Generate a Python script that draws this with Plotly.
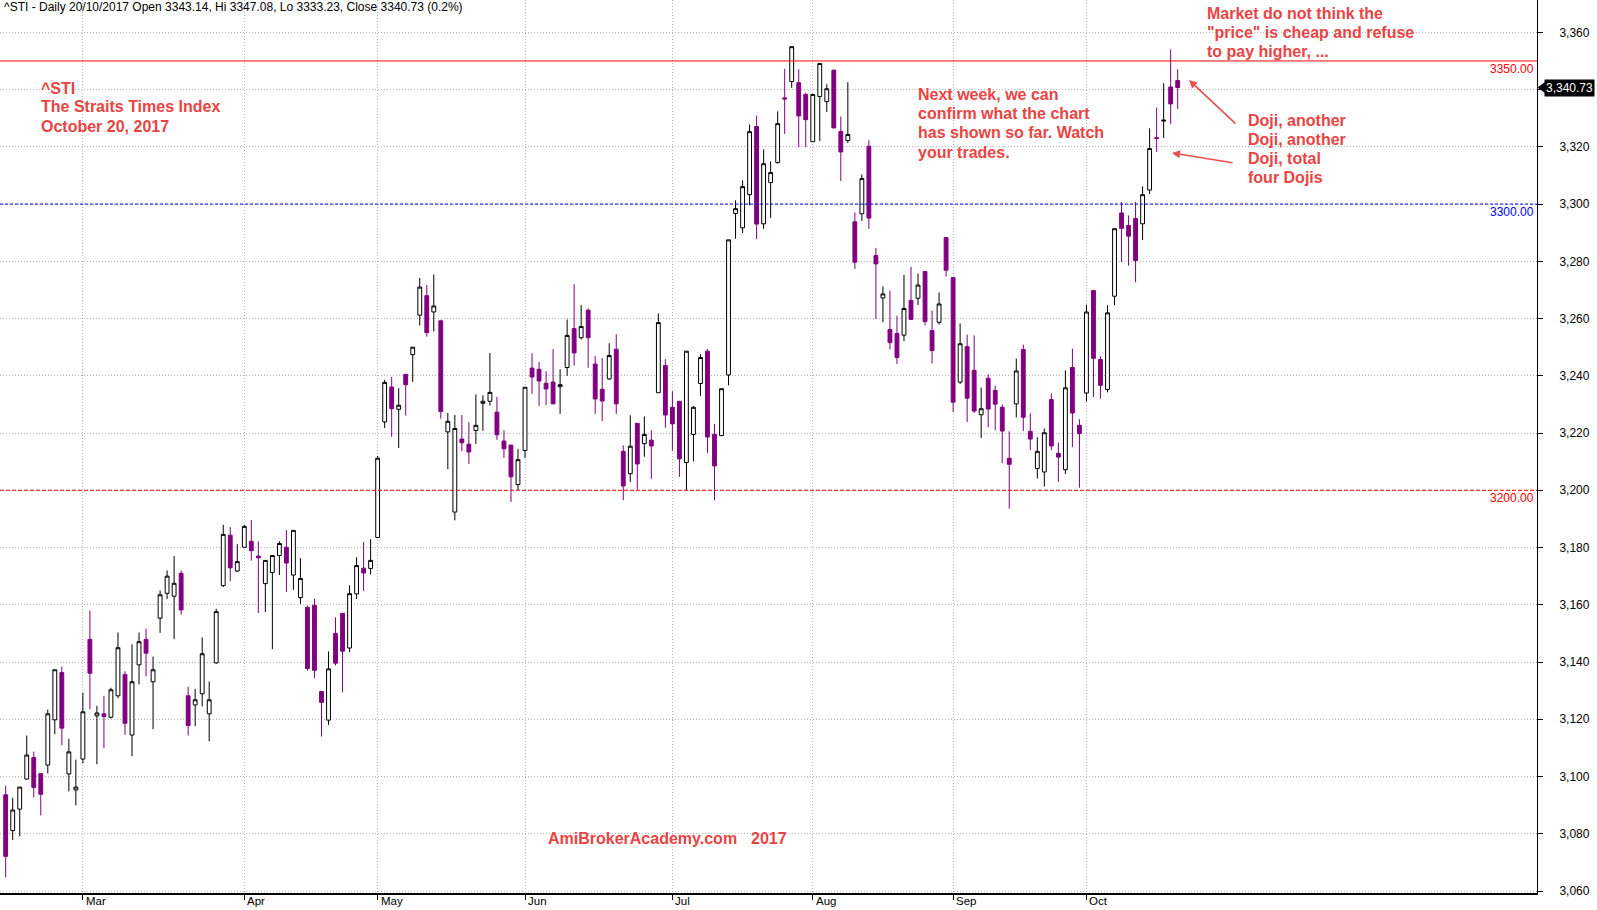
import plotly.graph_objects as go

# ---------------- data ----------------
opens = [3093.6, 3081.1, 3088.6, 3099.1, 3106.6, 3101.0, 3104.0, 3119.8, 3136.3, 3100.9,
         3095.3, 3106.1, 3147.9, 3121.2, 3121.9, 3120.7, 3128.2, 3135.6, 3114.5, 3139.0,
         3147.9, 3133.1, 3155.3, 3164.0, 3163.0, 3171.0, 3128.2, 3125.0, 3128.9, 3121.9,
         3139.7, 3166.7, 3184.3, 3171.8, 3180.1, 3182.2, 3177.0, 3167.4, 3171.3, 3177.2,
         3180.1, 3170.4, 3162.5, 3159.1, 3159.8, 3129.7, 3119.7, 3150.0, 3157.0, 3144.9,
         3163.8, 3172.8, 3172.7, 3183.5, 3223.9, 3236.1, 3228.3, 3240.5, 3247.4, 3261.2,
         3268.0, 3262.3, 3259.2, 3220.4, 3192.4, 3217.9, 3216.1, 3220.9, 3230.4, 3231.1,
         3227.3, 3217.2, 3215.8, 3202.0, 3213.9, 3242.7, 3242.3, 3237.4, 3237.8, 3236.2,
         3242.9, 3256.5, 3253.3, 3262.9, 3244.1, 3235.3, 3238.9, 3249.3, 3213.6, 3205.8,
         3223.4, 3216.3, 3217.5, 3234.1, 3243.6, 3229.0, 3231.1, 3209.7, 3219.5, 3237.3,
         3248.6, 3219.6, 3219.1, 3240.3, 3296.7, 3291.7, 3303.3, 3327.1, 3293.1, 3307.5,
         3314.5, 3337.1, 3342.8, 3342.4, 3338.3, 3321.8, 3337.6, 3335.8, 3346.8, 3325.4,
         3322.2, 3293.8, 3296.6, 3320.2, 3282.0, 3267.2, 3256.2, 3254.8, 3254.2, 3266.3,
         3267.1, 3276.4, 3255.8, 3258.7, 3288.3, 3274.3, 3237.8, 3250.2, 3241.9, 3226.4,
         3239.1, 3234.9, 3229.0, 3211.2, 3230.2, 3249.2, 3220.6, 3207.6, 3206.4, 3231.7,
         3212.9, 3207.2, 3242.9, 3222.7, 3234.0, 3269.8, 3245.7, 3235.2, 3267.8, 3296.9,
         3292.5, 3295.0, 3293.1, 3304.9, 3323.2, 3329.0, 3340.9, 3343.14]
highs = [3096.8, 3092.6, 3096.3, 3114.3, 3108.7, 3101.0, 3123.4, 3137.3, 3138.4, 3113.2,
         3105.9, 3129.3, 3158.0, 3124.7, 3128.2, 3131.0, 3150.3, 3136.8, 3146.2, 3150.3,
         3151.7, 3141.9, 3165.0, 3172.0, 3177.0, 3172.0, 3131.4, 3130.6, 3148.6, 3133.2,
         3158.6, 3187.9, 3187.1, 3181.2, 3187.9, 3189.6, 3182.2, 3175.5, 3177.2, 3182.2,
         3186.1, 3186.0, 3176.3, 3159.7, 3162.1, 3129.7, 3143.7, 3155.6, 3157.0, 3166.8,
         3176.6, 3181.9, 3182.9, 3212.0, 3238.6, 3239.6, 3235.7, 3240.5, 3250.0, 3274.2,
         3271.7, 3275.4, 3259.6, 3227.0, 3226.3, 3226.3, 3223.8, 3233.5, 3233.2, 3248.0,
         3232.6, 3221.0, 3215.8, 3214.4, 3236.0, 3247.9, 3244.8, 3241.6, 3249.3, 3242.3,
         3259.7, 3272.0, 3264.7, 3263.6, 3246.9, 3246.2, 3251.4, 3254.5, 3215.7, 3226.2,
         3223.4, 3225.8, 3221.0, 3261.8, 3245.8, 3234.6, 3231.1, 3248.6, 3229.4, 3247.6,
         3249.3, 3223.2, 3235.5, 3287.5, 3301.3, 3308.3, 3327.8, 3330.9, 3319.1, 3314.9,
         3332.4, 3347.3, 3355.0, 3347.1, 3338.9, 3338.3, 3349.1, 3341.9, 3346.8, 3330.6,
         3342.6, 3297.1, 3310.4, 3322.3, 3284.7, 3271.2, 3269.8, 3261.0, 3275.3, 3278.1,
         3275.7, 3276.4, 3262.8, 3269.1, 3288.3, 3274.3, 3258.3, 3254.4, 3254.1, 3235.9,
         3240.5, 3236.6, 3230.0, 3220.6, 3246.0, 3250.9, 3226.9, 3218.5, 3221.6, 3233.8,
         3216.7, 3241.9, 3249.5, 3224.8, 3264.9, 3269.8, 3246.8, 3264.7, 3291.4, 3300.7,
         3296.0, 3300.8, 3306.2, 3326.5, 3333.7, 3342.2, 3354.1, 3347.08]
lows = [3064.7, 3077.8, 3079.1, 3099.0, 3092.7, 3086.4, 3101.1, 3114.8, 3110.9, 3094.8,
        3089.9, 3104.6, 3123.5, 3104.3, 3109.9, 3120.3, 3127.4, 3114.6, 3107.1, 3132.2,
        3135.0, 3116.5, 3150.2, 3162.0, 3148.0, 3156.6, 3114.3, 3117.6, 3124.5, 3112.3,
        3139.4, 3166.2, 3168.2, 3171.4, 3179.8, 3175.4, 3157.1, 3157.5, 3144.5, 3170.4,
        3164.5, 3165.2, 3160.3, 3137.0, 3134.3, 3114.0, 3118.0, 3138.8, 3129.4, 3143.5,
        3162.0, 3164.8, 3170.6, 3183.5, 3221.8, 3218.7, 3214.8, 3226.1, 3237.9, 3257.6,
        3253.7, 3255.5, 3225.0, 3207.4, 3189.5, 3213.7, 3209.2, 3216.2, 3220.8, 3229.6,
        3217.6, 3211.3, 3195.9, 3200.0, 3211.3, 3233.7, 3229.5, 3229.8, 3230.2, 3226.7,
        3240.0, 3243.5, 3252.7, 3242.8, 3226.7, 3224.2, 3238.6, 3226.7, 3196.5, 3202.9,
        3200.3, 3211.7, 3204.0, 3234.1, 3221.9, 3213.8, 3204.7, 3200.0, 3210.1, 3232.9,
        3213.1, 3196.5, 3219.1, 3236.7, 3287.9, 3289.9, 3299.6, 3287.8, 3291.3, 3295.1,
        3314.1, 3324.5, 3340.6, 3319.9, 3319.9, 3321.8, 3322.0, 3332.2, 3326.6, 3308.0,
        3321.3, 3277.3, 3294.1, 3291.3, 3259.9, 3258.7, 3249.2, 3244.1, 3252.1, 3259.7,
        3264.7, 3257.6, 3244.3, 3257.9, 3274.7, 3227.3, 3237.1, 3223.8, 3227.0, 3218.3,
        3222.1, 3221.0, 3209.4, 3193.6, 3225.5, 3220.7, 3214.0, 3204.1, 3201.3, 3214.0,
        3202.9, 3205.7, 3215.1, 3200.9, 3231.0, 3232.6, 3232.0, 3234.2, 3264.7, 3279.7,
        3278.5, 3272.7, 3287.4, 3303.5, 3318.2, 3323.1, 3328.0, 3333.23]
closes = [3072.1, 3088.3, 3096.3, 3107.5, 3096.2, 3093.8, 3121.9, 3137.3, 3116.9, 3108.6,
          3096.3, 3122.6, 3136.1, 3122.2, 3121.0, 3130.3, 3145.0, 3118.6, 3133.1, 3147.1,
          3143.1, 3137.3, 3163.5, 3170.0, 3167.5, 3158.2, 3117.8, 3126.8, 3142.9, 3126.8,
          3157.6, 3184.6, 3172.9, 3175.1, 3187.4, 3178.9, 3176.4, 3175.5, 3177.2, 3181.4,
          3174.6, 3186.0, 3169.2, 3137.7, 3137.1, 3125.9, 3137.6, 3139.6, 3143.8, 3163.9,
          3173.7, 3171.1, 3175.5, 3211.2, 3237.7, 3228.5, 3229.7, 3236.9, 3250.0, 3271.0,
          3255.1, 3264.4, 3227.5, 3224.1, 3221.6, 3216.6, 3213.4, 3222.7, 3231.1, 3234.2,
          3219.4, 3214.5, 3204.7, 3210.7, 3236.0, 3239.6, 3238.2, 3235.4, 3230.2, 3236.9,
          3254.1, 3248.0, 3257.2, 3253.3, 3231.9, 3231.2, 3247.1, 3230.2, 3201.5, 3215.4,
          3209.2, 3219.5, 3215.5, 3258.6, 3226.3, 3223.2, 3211.0, 3248.6, 3229.0, 3246.4,
          3218.6, 3208.5, 3235.5, 3287.5, 3298.4, 3306.1, 3325.3, 3293.0, 3314.1, 3311.0,
          3328.1, 3336.7, 3355.0, 3330.8, 3329.5, 3338.3, 3349.1, 3340.3, 3326.6, 3318.2,
          3324.3, 3279.7, 3308.9, 3295.1, 3279.1, 3268.6, 3251.6, 3246.4, 3263.5, 3259.7,
          3271.7, 3259.0, 3248.8, 3265.1, 3276.9, 3230.8, 3251.2, 3232.2, 3227.7, 3228.5,
          3228.4, 3230.1, 3220.7, 3209.1, 3241.7, 3225.5, 3217.9, 3213.6, 3220.1, 3215.5,
          3211.6, 3235.8, 3227.0, 3219.8, 3262.3, 3246.1, 3236.7, 3262.0, 3291.4, 3291.5,
          3288.8, 3280.3, 3303.3, 3319.4, 3322.9, 3329.3, 3335.0, 3340.73]
bars = list(range(1, len(opens) + 1))

month_labels = ["Mar", "Apr", "May", "Jun", "Jul", "Aug", "Sep", "Oct"]
month_bars = [12, 35, 54, 75, 96, 116, 136, 155]
y_ticks = [3060, 3080, 3100, 3120, 3140, 3160, 3180, 3200, 3220, 3240, 3260, 3280,
           3300, 3320, 3340, 3360]
ref_levels = [3350, 3300, 3200]
ref_colors = ["#ff0000", "#0000ff", "#ff0000"]
ref_dashes = ["solid", "3px,2px", "4px,2px"]

header = "^STI - Daily 20/10/2017 Open 3343.14, Hi 3347.08, Lo 3333.23, Close 3340.73 (0.2%)"
title_lines = ["^STI", "The Straits Times Index", "October 20, 2017"]
note_lines = ["Next week, we can", "confirm what the chart", "has shown so far. Watch", "your trades."]
market_lines = ["Market do not think the", "\"price\" is cheap and refuse", "to pay higher, ..."]
doji_lines = ["Doji, another", "Doji, another", "Doji, total", "four Dojis"]

# ---------------- layout geometry ----------------
W, H = 1597, 910
ML, MR, MT, MB = 0, 60, 0, 17
PW, PH = W - ML - MR, H - MT - MB
FONT = "Liberation Sans, Arial, sans-serif"
RED_TXT = "#e94444"
GRID = "#b4b4b4"


def fx(px):
    return (px - ML) / PW


def fy(py):
    return 1 - (py - MT) / PH


fig = go.Figure(go.Candlestick(
    x=bars, open=opens, high=highs, low=lows, close=closes,
    increasing=dict(fillcolor="white", line=dict(color="black", width=1)),
    decreasing=dict(fillcolor="#800080", line=dict(color="#800080", width=1)),
    whiskerwidth=0, showlegend=False,
))

shapes = []
annotations = []
for lvl, col, dsh in zip(ref_levels, ref_colors, ref_dashes):
    shapes.append(dict(type="line", xref="paper", x0=0, x1=1, yref="y", y0=lvl, y1=lvl,
                       line=dict(color=col, width=1, dash=dsh), layer="above"))
    annotations.append(dict(xref="paper", x=1, yref="y", y=lvl, xanchor="right", yanchor="top",
                            text=f"{lvl:.2f}", showarrow=False, xshift=-1, yshift=1,
                            font=dict(family=FONT, size=12, color=col)))

# last price tag (covers the tick label at the same height, as in the reference)
last = closes[-1]
tick_text = []
for t in y_ticks:
    tick_text.append("" if abs(t - last) < 7 else f"{t:,d}")
shapes.append(dict(type="path", xref="paper", yref="y",
                   path=f"M {fx(1537.5)} {last} L {fx(1545)} {last + 1.9} L {fx(1545)} {last - 1.9} Z",
                   fillcolor="black", line=dict(color="black", width=0)))
annotations.append(dict(xref="paper", x=fx(1544), yref="y", y=last, xanchor="left", yanchor="middle",
                        text=f"{last:,.2f}", showarrow=False, bgcolor="black", borderpad=1,
                        font=dict(family=FONT, size=12, color="white")))

# month labels
for lab, b in zip(month_labels, month_bars):
    annotations.append(dict(xref="x", x=b, yref="paper", y=fy(900.5), xanchor="left", yanchor="middle",
                            text=lab, showarrow=False, xshift=1,
                            font=dict(family=FONT, size=11.5, color="black")))

# header
annotations.append(dict(xref="paper", x=fx(2), yref="paper", y=fy(7.5), xanchor="left", yanchor="middle",
                        text=header, showarrow=False, font=dict(family=FONT, size=12, color="black")))


def text_block(lines, x, ys):
    for t, yy in zip(lines, ys):
        annotations.append(dict(xref="paper", x=fx(x), yref="paper", y=fy(yy), xanchor="left",
                                yanchor="middle", text=f"<b>{t}</b>", showarrow=False,
                                font=dict(family=FONT, size=16, color=RED_TXT)))


text_block(title_lines, 39, [88, 107, 126.5])
text_block(note_lines, 916, [94, 113, 132.5, 152])
text_block(market_lines, 1205, [13.5, 32.5, 52])
text_block(doji_lines, 1246, [121, 139.5, 158.5, 177])
text_block(["AmiBrokerAcademy.com"], 546, [838.5])
text_block(["2017"], 749, [838.5])

# arrows
for hx, hy, tx, ty in [(1189, 80, 1237, 125), (1172, 153, 1234, 163)]:
    annotations.append(dict(xref="paper", x=fx(hx), yref="paper", y=fy(hy), ax=tx - hx, ay=ty - hy,
                            axref="pixel", ayref="pixel", text="", showarrow=True, arrowhead=2,
                            arrowsize=1, arrowwidth=1.6, arrowcolor="#e85050"))

fig.update_layout(
    width=W, height=H, margin=dict(l=ML, r=MR, t=MT, b=MB),
    paper_bgcolor="white", plot_bgcolor="white",
    boxgap=0.22, showlegend=False, hovermode=False,
    shapes=shapes, annotations=annotations,
    font=dict(family=FONT, size=12, color="black"),
    xaxis=dict(range=[0.19, 219.2], tickmode="array", tickvals=month_bars,
               ticktext=["" for _ in month_bars], ticks="outside", ticklen=5, tickcolor="black",
               showgrid=True, gridcolor=GRID, griddash="1px,2px", gridwidth=1,
               showline=True, linecolor="black", linewidth=1.5, zeroline=False,
               rangeslider=dict(visible=False), fixedrange=True),
    yaxis=dict(side="right", range=[3059.3, 3371.3], tickmode="array", tickvals=y_ticks,
               ticktext=tick_text, ticks="outside", ticklen=5, tickcolor="black",
               ticklabelstandoff=14,
               showgrid=True, gridcolor=GRID, griddash="1px,2px", gridwidth=1,
               showline=True, linecolor="black", linewidth=1, zeroline=False,
               tickfont=dict(family=FONT, size=12, color="black"), fixedrange=True),
)

fig.write_html("out.html", config={"displayModeBar": False},
               post_script="document.body.style.margin='0px';document.body.style.overflow='hidden';")
